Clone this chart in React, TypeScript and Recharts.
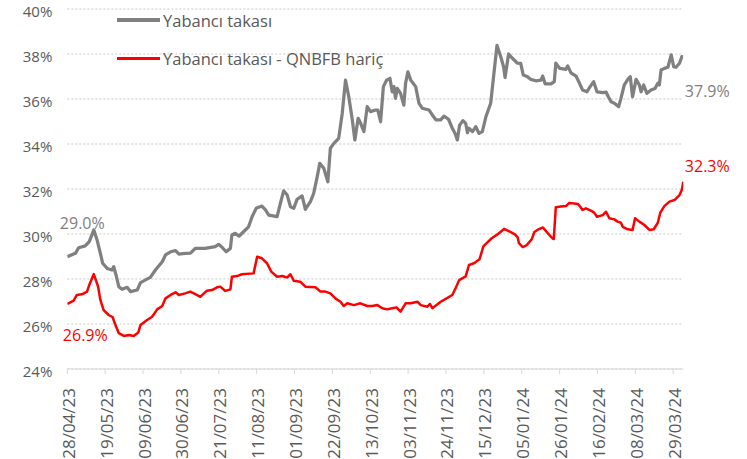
import React from 'react';
import { LineChart, Line, XAxis, YAxis, CartesianGrid } from 'recharts';

// x = business-day index from 28/04/23, one tick label every 15 days
const tickDays = [0, 15, 30, 45, 60, 75, 90, 105, 120, 135, 150, 165, 180, 195, 210, 225, 240];
const tickLabels = [
  '28/04/23', '19/05/23', '09/06/23', '30/06/23', '21/07/23', '11/08/23', '01/09/23', '22/09/23', '13/10/23',
  '03/11/23', '24/11/23', '15/12/23', '05/01/24', '26/01/24', '16/02/24', '08/03/24', '29/03/24',
];
const yTicks = [24, 26, 28, 30, 32, 34, 36, 38, 40];

// Yabancı takası (%)
const yabanciTakasi: [number, number][] = [
  [0, 28.99], [3.2, 29.14], [4.5, 29.39], [7.1, 29.47], [8.7, 29.66], [10.5, 30.18], [11.8, 29.73], [13.1, 29.14],
  [14, 28.7], [15.8, 28.47], [17.7, 28.4], [18.4, 28.55], [19.3, 28.18], [20.4, 27.66], [21.7, 27.54], [23.7, 27.63],
  [25, 27.44], [27.7, 27.51], [29, 27.84], [31, 27.96], [32.9, 28.07], [34.9, 28.4], [37.6, 28.77], [38.9, 29.07],
  [40.9, 29.21], [42.9, 29.26], [44.2, 29.11], [46.7, 29.14], [48.8, 29.15], [50.7, 29.36], [54.6, 29.36],
  [58.6, 29.44], [59.9, 29.54], [61.3, 29.41], [62.9, 29.21], [64.6, 29.36], [65.2, 29.96], [66.5, 30.03],
  [68.1, 29.91], [69.8, 30.1], [71.8, 30.32], [73.2, 30.77], [74.8, 31.14], [77.1, 31.24], [78.5, 31.07],
  [79.8, 30.84], [83.1, 30.77], [84.4, 31.36], [85.7, 31.92], [87.1, 31.73], [88.4, 31.21], [89.7, 31.14],
  [91, 31.54], [93, 31.69], [94.3, 31.1], [96.3, 31.44], [97.6, 31.81], [99, 32.55], [100, 33.14], [101.6, 32.92],
  [103.2, 32.32], [104.2, 33.81], [105.6, 34.03], [107.5, 34.25], [108.9, 35.36], [110.2, 36.84], [111.5, 36.1],
  [112.9, 35.07], [113.9, 34.18], [115.2, 35.14], [116.2, 34.92], [117.5, 34.55], [118.8, 35.66], [120.1, 35.44],
  [122.1, 35.51], [123, 35.51], [124.1, 34.99], [125.2, 36.55], [126.5, 36.84], [127.8, 36.92], [128.7, 36.32],
  [129.4, 36.55], [130, 36.03], [130.7, 36.47], [132, 36.25], [133.3, 35.73], [134, 36.7], [134.9, 37.21],
  [136, 36.84], [138, 36.55], [139.3, 35.81], [140.6, 35.59], [143.3, 35.51], [144.6, 35.29], [146, 35.07],
  [147.9, 35.07], [149.2, 35.24], [151, 35.1], [152.5, 34.7], [153.6, 34.47], [154.5, 34.18], [155.4, 34.84],
  [156.7, 35.04], [157.8, 34.92], [158.5, 34.5], [159.1, 34.7], [160.5, 34.55], [161.8, 34.77], [163.1, 34.47],
  [164.4, 34.55], [165.8, 35.21], [167.7, 35.81], [168.7, 36.84], [170.2, 38.38], [171.7, 37.88], [172.8, 37.44],
  [173.4, 36.96], [174.8, 38.0], [176.3, 37.81], [178.3, 37.59], [179.6, 37.58], [180.6, 37.07], [182.3, 36.99],
  [183.6, 36.87], [185.6, 36.81], [187.6, 36.84], [188.3, 37.02], [189.3, 36.67], [191.6, 36.67], [192.9, 36.77],
  [193.5, 37.59], [195.1, 37.36], [197.5, 37.32], [198.2, 37.47], [199.5, 37.16], [201.5, 37.02], [202.8, 36.72],
  [204.1, 36.4], [205.8, 36.32], [207.1, 36.55], [208.5, 36.77], [209.8, 36.32], [212.1, 36.28], [213.4, 36.31],
  [214.3, 36.1], [215.4, 35.88], [216.7, 35.81], [218.4, 35.66], [219.3, 36.03], [220.6, 36.62], [222, 36.87],
  [223, 36.99], [223.9, 36.1], [225.3, 36.87], [226.6, 36.62], [227.3, 36.32], [228.3, 36.62], [229.6, 36.25],
  [231.2, 36.4], [232.8, 36.47], [233.9, 36.7], [234.5, 36.62], [235.2, 37.29], [236.5, 37.36], [237.9, 37.41],
  [239.2, 37.96], [240.2, 37.44], [241.1, 37.41], [242.5, 37.59], [243.4, 37.88], [244, 37.88],
];

// Yabancı takası - QNBFB hariç (%)
const qnbfbHaric: [number, number][] = [
  [0, 26.89], [2.5, 27.04], [3.8, 27.29], [5.8, 27.32], [7.8, 27.44], [8.7, 27.73], [10.5, 28.22], [12.2, 27.66],
  [13.1, 27.07], [14.4, 26.62], [16.4, 26.4], [18, 26.3], [18.8, 26.03], [20.4, 25.59], [22.4, 25.47], [24.4, 25.51],
  [26.3, 25.47], [28.1, 25.62], [29, 25.96], [31.6, 26.18], [33.6, 26.32], [35.6, 26.65], [37.6, 26.8], [38.9, 27.14],
  [40.9, 27.29], [42.9, 27.41], [44.2, 27.29], [46.7, 27.36], [48.7, 27.44], [50.7, 27.33], [52.7, 27.21],
  [55.3, 27.48], [57.3, 27.51], [59.3, 27.63], [60.6, 27.66], [62.6, 27.47], [64.6, 27.54], [65.2, 28.1],
  [67.2, 28.13], [69.2, 28.21], [73.8, 28.25], [75.2, 28.99], [77.1, 28.92], [79.1, 28.7], [80.8, 28.33],
  [83.1, 28.1], [85.1, 28.13], [87.1, 28.07], [88.4, 28.21], [89.7, 27.92], [92.3, 27.88], [94.3, 27.66],
  [98.3, 27.63], [100.3, 27.44], [102.2, 27.44], [104.2, 27.36], [106.2, 27.14], [108.2, 26.99], [109.5, 26.8],
  [110.9, 26.92], [113.5, 26.84], [116.1, 26.92], [118.8, 26.8], [120.8, 26.8], [122.8, 26.84], [124.8, 26.7],
  [126.7, 26.65], [128.7, 26.7], [130.4, 26.74], [132, 26.55], [134, 26.92], [136, 26.92], [138.7, 26.99],
  [140, 26.84], [142.6, 26.77], [143.7, 26.89], [144.6, 26.7], [147.9, 26.99], [149.2, 27.07], [152.5, 27.29],
  [153.8, 27.59], [155.2, 27.95], [157.8, 28.12], [159.1, 28.62], [161.1, 28.7], [163.3, 28.88], [164.8, 29.45],
  [166.3, 29.62], [168.1, 29.81], [170.1, 29.96], [171.7, 30.1], [173, 30.23], [174.7, 30.14], [177.3, 29.98],
  [178.4, 29.85], [178.9, 29.59], [180.4, 29.42], [182, 29.51], [184, 29.77], [185, 30.09], [186.4, 30.19],
  [188.4, 30.29], [190.2, 30.05], [192.2, 29.8], [192.7, 29.78], [193.5, 31.19], [195.5, 31.22], [197.5, 31.24],
  [198.8, 31.38], [200.8, 31.36], [202.3, 31.33], [203.2, 31.21], [204.1, 31.07], [205.4, 31.14], [207.4, 31.04],
  [208.7, 30.95], [209.8, 30.77], [212.1, 30.84], [213.4, 30.99], [214.7, 30.7], [216.7, 30.65], [218, 30.55],
  [219.3, 30.5], [220, 30.32], [222, 30.21], [223.9, 30.18], [224.9, 30.7], [226.6, 30.55], [228.6, 30.4],
  [230.6, 30.18], [232.3, 30.21], [233.9, 30.5], [234.9, 30.95], [236.5, 31.24], [238.5, 31.44], [240.5, 31.51],
  [242.5, 31.73], [243.4, 31.96], [244, 32.32],
];

const FONT = '"Open Sans", sans-serif';
const TEXT = '#595959';
const GRAY = '#808080';
const RED = '#ff0000';

const toRows = (pts: [number, number][]) => pts.map(([i, v]) => ({ i, v }));

const XTick = ({ x, y, payload }: any) => {
  const label = tickLabels[tickDays.indexOf(payload.value)] ?? '';
  return (
    <text
      x={x + 1}
      y={y + 12}
      transform={`rotate(-90, ${x + 1}, ${y + 12})`}
      textAnchor="end"
      dominantBaseline="central"
      fill={TEXT}
      fontSize={17}
      fontFamily={FONT}
    >
      {label}
    </text>
  );
};

const YTick = ({ x, y, payload }: any) => (
  <text x={x} y={y + 1.5} textAnchor="end" dominantBaseline="central" fill={TEXT} fontSize={15} fontFamily={FONT}>
    {`${payload.value}%`}
  </text>
);

// shows the value only at the first and last point of a series
const endLabel = (color: string, last: number, first: [number, number], end: [number, number]) => (props: any) => {
  const { x, y, index, value } = props;
  let off: [number, number] | null = null;
  if (index === 0) off = first;
  if (index === last) off = end;
  if (!off) return <g />;
  return (
    <text
      x={x + off[0]}
      y={y + off[1]}
      textAnchor="middle"
      dominantBaseline="central"
      fill={color}
      fontSize={16}
      fontFamily={FONT}
    >
      {`${Number(value).toFixed(1)}%`}
    </text>
  );
};

const LegendRow = ({ color, width, text }: { color: string; width: number; text: string }) => (
  <div style={{ display: 'flex', alignItems: 'center', height: 38 }}>
    <div style={{ width: 43, height: width, background: color, marginRight: 3 }} />
    <span style={{ color: TEXT, fontSize: 16.5, fontFamily: FONT, whiteSpace: 'nowrap' }}>{text}</span>
  </div>
);

export default function App() {
  return (
    <div style={{ position: 'absolute', left: 0, top: 0, width: 747, height: 459, background: '#fff' }}>
      <LineChart width={747} height={459} margin={{ top: 9, right: 63.7, bottom: 0, left: 10 }}>
        <CartesianGrid vertical={false} stroke="#c9c9c9" strokeDasharray="2 2" />
        <XAxis
          type="number"
          dataKey="i"
          domain={[0, 244]}
          ticks={tickDays}
          interval={0}
          height={90}
          stroke="#d9d9d9"
          tickSize={5}
          tick={<XTick />}
          allowDataOverflow
        />
        <YAxis
          type="number"
          domain={[24, 40]}
          ticks={yTicks}
          width={57.3}
          axisLine={false}
          tickLine={false}
          tickSize={0}
          tickMargin={15}
          tick={<YTick />}
        />
        <Line
          data={toRows(yabanciTakasi)}
          dataKey="v"
          type="linear"
          stroke={GRAY}
          strokeWidth={3.25}
          dot={false}
          strokeLinejoin="round"
          isAnimationActive={false}
          label={endLabel(GRAY, yabanciTakasi.length - 1, [15, -34], [24, 34])}
        />
        <Line
          data={toRows(qnbfbHaric)}
          dataKey="v"
          type="linear"
          stroke={RED}
          strokeWidth={2.5}
          dot={false}
          strokeLinejoin="round"
          isAnimationActive={false}
          label={endLabel(RED, qnbfbHaric.length - 1, [18, 31], [24, -16])}
        />
      </LineChart>
      <div style={{ position: 'absolute', left: 117, top: 1 }}>
        <LegendRow color={GRAY} width={4} text="Yabancı takası" />
        <LegendRow color={RED} width={3} text="Yabancı takası - QNBFB hariç" />
      </div>
    </div>
  );
}
